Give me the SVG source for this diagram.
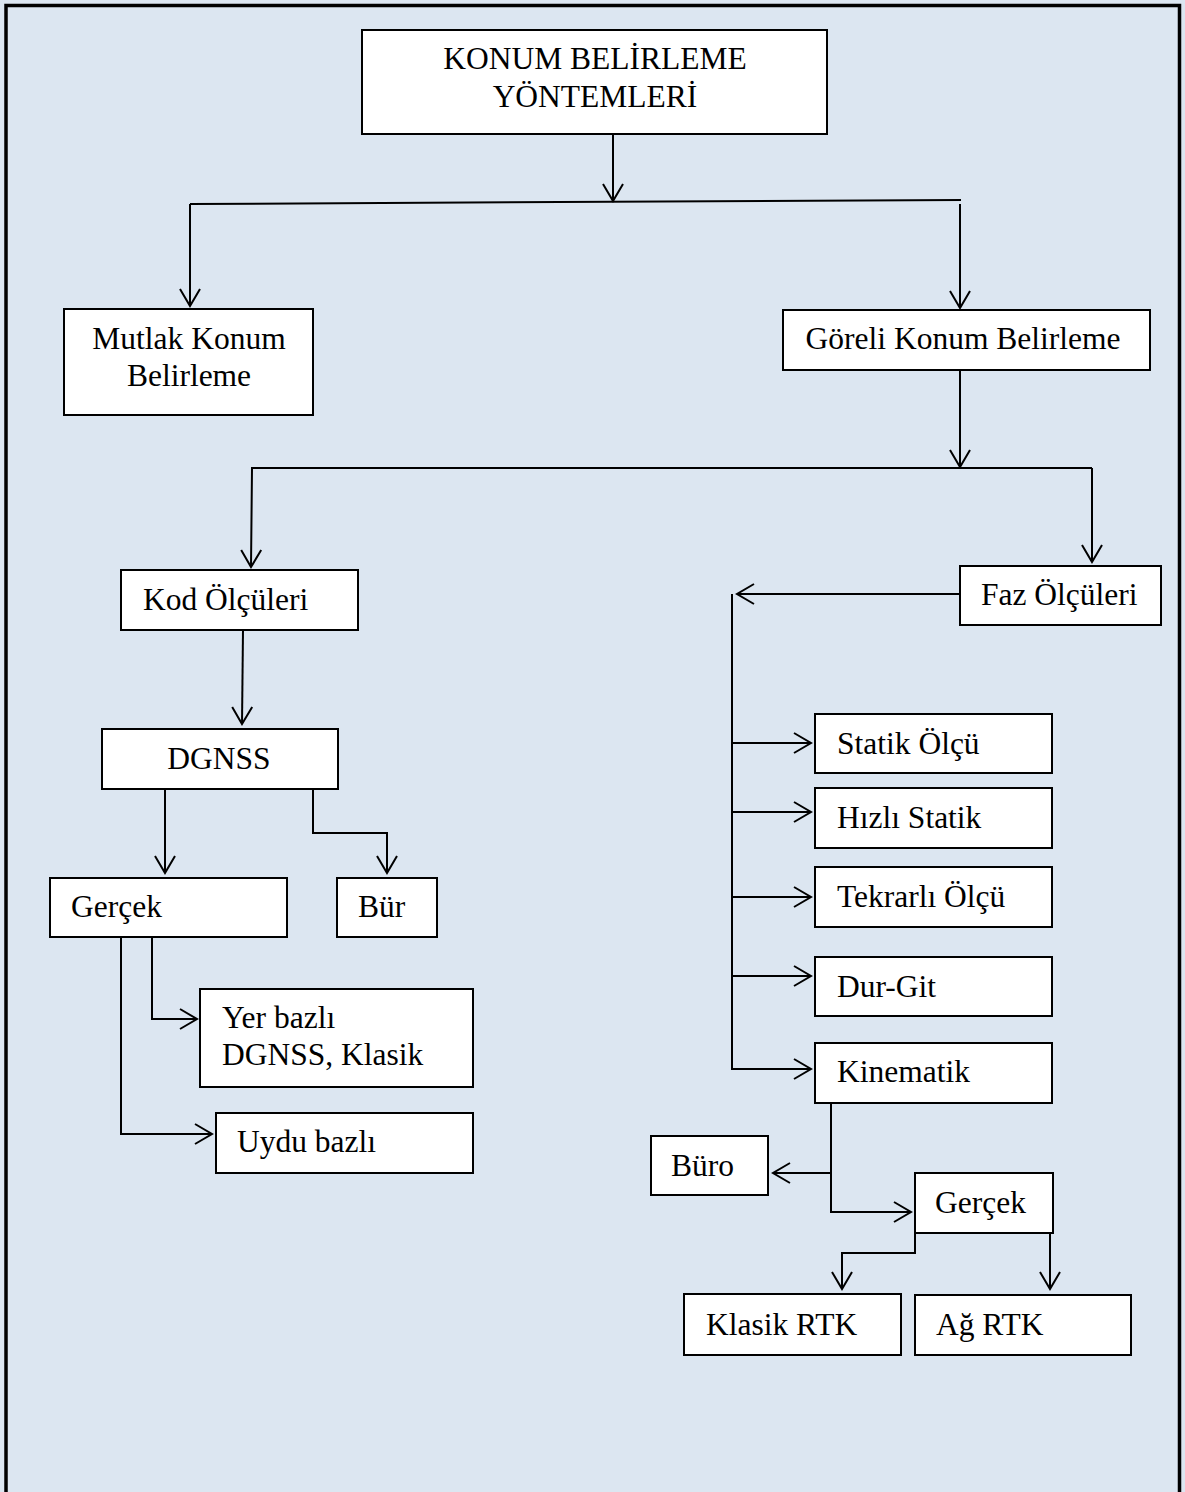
<svg xmlns="http://www.w3.org/2000/svg" width="1185" height="1492" viewBox="0 0 1185 1492">
<style>
  .box { fill: #ffffff; stroke: #000000; stroke-width: 2; }
  .lbl { font-family: "Liberation Serif", "Times New Roman", serif; font-size: 31.5px; fill: #000000; }
  .mid { text-anchor: middle; }
  .con { fill: none; stroke: #000000; stroke-width: 2; }
  .arr { marker-end: url(#v); }
</style>
<defs>
  <marker id="v" markerUnits="userSpaceOnUse" markerWidth="20" markerHeight="24" viewBox="0 0 20 24" refX="18" refY="12" orient="auto">
    <path d="M1,2 L18,12 L1,22" fill="none" stroke="#000000" stroke-width="2"/>
  </marker>
</defs>
<rect x="0" y="0" width="1185" height="1492" fill="#dce6f1"/>
<path d="M6,1492 L6,5.5 L1179.5,5.5 L1179.5,1492" fill="none" stroke="#000000" stroke-width="3.5"/>

<g id="connectors">
  <line class="con arr" x1="613" y1="134" x2="613" y2="201"/>
  <line class="con" x1="190" y1="204" x2="961" y2="200"/>
  <line class="con arr" x1="190" y1="204" x2="190" y2="306"/>
  <line class="con arr" x1="960" y1="204" x2="960" y2="308"/>
  <line class="con arr" x1="960" y1="370" x2="960" y2="467"/>
  <polyline class="con arr" points="1092,468 252,468 251,567"/>
  <line class="con arr" x1="1092" y1="468" x2="1092" y2="562"/>
  <line class="con arr" x1="243" y1="630" x2="242" y2="724"/>
  <line class="con arr" x1="165" y1="789" x2="165" y2="873"/>
  <polyline class="con arr" points="313,789 313,833 387,833 387,873"/>
  <polyline class="con arr" points="152,937 152,1019 197,1019"/>
  <polyline class="con arr" points="121,937 121,1134 212,1134"/>
  <line class="con arr" x1="960" y1="594" x2="737" y2="594"/>
  <line class="con" x1="732" y1="594" x2="732" y2="1069"/>
  <line class="con arr" x1="732" y1="743" x2="811" y2="743"/>
  <line class="con arr" x1="732" y1="812" x2="811" y2="812"/>
  <line class="con arr" x1="732" y1="897" x2="811" y2="897"/>
  <line class="con arr" x1="732" y1="976" x2="811" y2="976"/>
  <line class="con arr" x1="731" y1="1069" x2="811" y2="1069"/>
  <line class="con" x1="831" y1="1103" x2="831" y2="1212"/>
  <line class="con arr" x1="831" y1="1173" x2="773" y2="1173"/>
  <line class="con arr" x1="830" y1="1212" x2="911" y2="1212"/>
  <polyline class="con arr" points="915,1233 915,1253 842,1253 842,1289"/>
  <line class="con arr" x1="1050" y1="1233" x2="1050" y2="1289"/>
</g>

<g id="n-root">
  <rect class="box" x="362" y="30" width="465" height="104"/>
  <text class="lbl mid" x="595" y="69">KONUM BELİRLEME</text>
  <text class="lbl mid" x="595" y="107">YÖNTEMLERİ</text>
</g>
<g id="n-mutlak">
  <rect class="box" x="64" y="309" width="249" height="106"/>
  <text class="lbl mid" x="189" y="349">Mutlak Konum</text>
  <text class="lbl mid" x="189" y="386">Belirleme</text>
</g>
<g id="n-goreli">
  <rect class="box" x="783" y="310" width="367" height="60"/>
  <text class="lbl mid" x="963" y="349">Göreli Konum Belirleme</text>
</g>
<g id="n-kod">
  <rect class="box" x="121" y="570" width="237" height="60"/>
  <text class="lbl" x="143" y="610">Kod Ölçüleri</text>
</g>
<g id="n-faz">
  <rect class="box" x="960" y="566" width="201" height="59"/>
  <text class="lbl" x="981" y="605">Faz Ölçüleri</text>
</g>
<g id="n-dgnss">
  <rect class="box" x="102" y="729" width="236" height="60"/>
  <text class="lbl mid" x="219" y="769">DGNSS</text>
</g>
<g id="n-gercek1">
  <rect class="box" x="50" y="878" width="237" height="59"/>
  <text class="lbl" x="71" y="917">Gerçek</text>
</g>
<g id="n-bur">
  <rect class="box" x="337" y="878" width="100" height="59"/>
  <text class="lbl" x="358" y="917">Bür</text>
</g>
<g id="n-yer">
  <rect class="box" x="200" y="989" width="273" height="98"/>
  <text class="lbl" x="222" y="1028">Yer bazlı</text>
  <text class="lbl" x="222" y="1065">DGNSS, Klasik</text>
</g>
<g id="n-uydu">
  <rect class="box" x="216" y="1113" width="257" height="60"/>
  <text class="lbl" x="237" y="1152">Uydu bazlı</text>
</g>
<g id="n-statik">
  <rect class="box" x="815" y="714" width="237" height="59"/>
  <text class="lbl" x="837" y="754">Statik Ölçü</text>
</g>
<g id="n-hizli">
  <rect class="box" x="815" y="788" width="237" height="60"/>
  <text class="lbl" x="837" y="828">Hızlı Statik</text>
</g>
<g id="n-tekrarli">
  <rect class="box" x="815" y="867" width="237" height="60"/>
  <text class="lbl" x="837" y="907">Tekrarlı Ölçü</text>
</g>
<g id="n-durgit">
  <rect class="box" x="815" y="957" width="237" height="59"/>
  <text class="lbl" x="837" y="997">Dur-Git</text>
</g>
<g id="n-kinematik">
  <rect class="box" x="815" y="1043" width="237" height="60"/>
  <text class="lbl" x="837" y="1082">Kinematik</text>
</g>
<g id="n-buro">
  <rect class="box" x="651" y="1136" width="117" height="59"/>
  <text class="lbl" x="671" y="1176">Büro</text>
</g>
<g id="n-gercek2">
  <rect class="box" x="915" y="1173" width="138" height="60"/>
  <text class="lbl" x="935" y="1213">Gerçek</text>
</g>
<g id="n-klasik">
  <rect class="box" x="684" y="1294" width="217" height="61"/>
  <text class="lbl" x="706" y="1335">Klasik RTK</text>
</g>
<g id="n-ag">
  <rect class="box" x="915" y="1295" width="216" height="60"/>
  <text class="lbl" x="936" y="1335">Ağ RTK</text>
</g>
</svg>
